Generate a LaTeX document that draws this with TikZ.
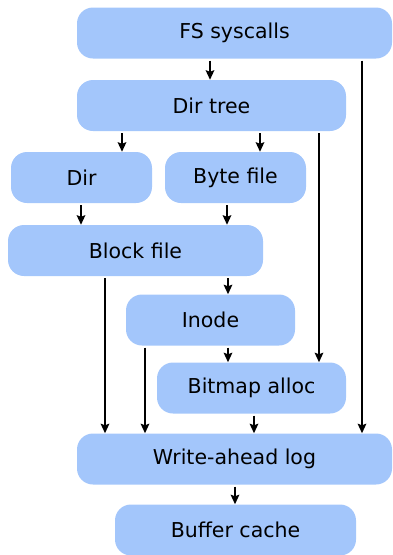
\documentclass[tikz,border=0pt]{standalone}
\usepackage{fontspec}
\setmainfont{DejaVu Sans}
\usetikzlibrary{arrows.meta}
\definecolor{boxblue}{RGB}{163,198,251}
\begin{document}
\begin{tikzpicture}[x=1pt,y=-1pt]
        \useasboundingbox (0,0) rectangle (392,555);
        \begin{scope}[every node/.style={rectangle,rounded corners=16pt,fill=boxblue,minimum height=51pt,inner sep=0pt,font=\fontsize{20.5}{24}\selectfont}]
            \node (fs) [minimum width=315pt] at (234.5,33) {FS syscalls};
            \node (dirtree) [minimum width=269pt] at (211.5,105.5) {Dir tree};
            \node (dir) [minimum width=141pt] at (81.5,177.5) {Dir};
            \node (bytefile) [minimum width=141pt] at (235.5,177.5) {Byte file};
            \node (blockfile) [minimum width=255pt] at (135.5,250.5) {Block file};
            \node (inode) [minimum width=169pt] at (210.5,320) {Inode};
            \node (bitmap) [minimum width=189pt] at (251.5,388) {Bitmap alloc};
            \node (wal) [minimum width=315pt] at (234.5,459) {Write-ahead log};
            \node (buffer) [minimum width=241pt] at (235.5,530) {Buffer cache};
        \end{scope}
        \begin{scope}[every edge/.style={draw,line width=2.5pt,-{Stealth[length=9.5pt,width=8.5pt,inset=1.5pt]},shorten <=2pt}]
            \path
                (fs.south -| 210,0) edge (dirtree.north -| 210,0)
                (fs.south -| 362,0) edge (wal.north -| 362,0)
                (dirtree.south -| 122,0) edge (dir.north -| 122,0)
                (dirtree.south -| 260,0) edge (bytefile.north -| 260,0)
                (dirtree.south -| 319,0) edge (bitmap.north -| 319,0)
                (dir.south -| 81,0) edge (blockfile.north -| 81,0)
                (bytefile.south -| 227,0) edge (blockfile.north -| 227,0)
                (blockfile.south -| 228,0) edge (inode.north -| 228,0)
                (blockfile.south -| 105,0) edge (wal.north -| 105,0)
                (inode.south -| 228,0) edge (bitmap.north -| 228,0)
                (inode.south -| 145,0) edge (wal.north -| 145,0)
                (bitmap.south -| 254,0) edge (wal.north -| 254,0)
                (wal.south -| 235,0) edge (buffer.north -| 235,0);
        \end{scope}
    \end{tikzpicture}
\end{document}
